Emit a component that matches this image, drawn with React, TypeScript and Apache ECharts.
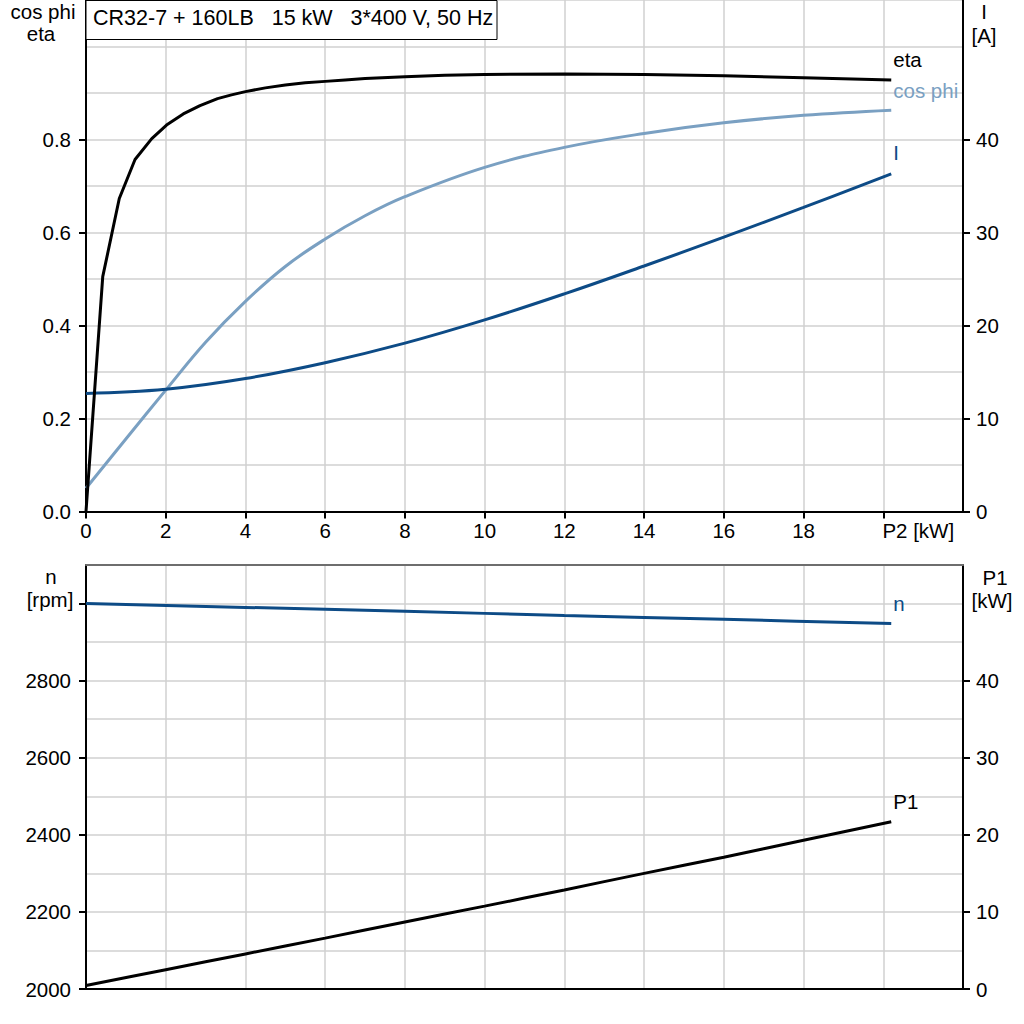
import React, { useEffect, useRef } from "react";
import * as echarts from "echarts";

// ---------- data ----------
const P2_TICKS = [0, 2, 4, 6, 8, 10, 12, 14, 16, 18, 20];
const EFF_TICKS = [0, 0.2, 0.4, 0.6, 0.8];
const CUR_TICKS = [0, 10, 20, 30, 40];
const RPM_TICKS = [2000, 2200, 2400, 2600, 2800, 3000];
const RPM_LABELS = [2000, 2200, 2400, 2600, 2800];
const P1_TICKS = [0, 10, 20, 30, 40];

const ETA_X = [0, 0.42, 0.835, 1.23, 1.65, 2.02, 2.44, 2.86, 3.3, 3.65, 4, 4.5, 5, 5.5, 6, 6.5, 7, 8, 9, 10, 12, 14, 16, 18, 20.2];
const ETA_Y = [0.0, 0.505, 0.673, 0.757, 0.802, 0.831, 0.855, 0.873, 0.888, 0.896, 0.903, 0.911, 0.917, 0.922, 0.925, 0.928, 0.931, 0.935, 0.938, 0.94, 0.941, 0.94, 0.937, 0.933, 0.928];

const COS_X = [0, 1, 2, 3, 4, 5, 6, 7, 8, 10, 12, 14, 16, 18, 20.2];
const COS_Y = [0.05, 0.156, 0.261, 0.364, 0.452, 0.527, 0.586, 0.636, 0.677, 0.74, 0.783, 0.813, 0.836, 0.852, 0.863];

const I_X = [0, 2, 4, 6, 8, 10, 12, 14, 16, 18, 20.2];
const I_Y = [12.7, 13.15, 14.3, 16.0, 18.1, 20.6, 23.4, 26.4, 29.5, 32.7, 36.3];

const N_X = [0, 4, 8, 12, 16, 20.2];
const N_Y = [3000, 2990, 2980, 2969, 2959, 2948];

const P1_X = [0, 2, 4, 6, 8, 10, 12, 14, 16, 18, 20.2];
const P1_Y = [0.45, 2.5, 4.55, 6.6, 8.7, 10.75, 12.85, 15.0, 17.1, 19.3, 21.7];

const TITLE = "CR32-7 + 160LB   15 kW   3*400 V, 50 Hz";

// ---------- style ----------
const FONT = "'Liberation Sans', Arial, sans-serif";
const GRID_COLOR = "#d0d0d0";
const BLACK = "#000000";
const LIGHT_BLUE = "#7aa0c2";
const DARK_BLUE = "#0d4b86";
const FS = 20.5;

const pairs = (xs: number[], ys: number[]) => xs.map((x, i) => [x, ys[i]]);

export default function App() {
  const ref = useRef<HTMLDivElement>(null);

  useEffect(() => {
    if (!ref.current) return;
    const chart = echarts.init(ref.current, null, { renderer: "svg" });

    const splitOnlyY = (gridIndex: number, min: number, max: number, interval: number) => ({
      type: "value",
      gridIndex,
      min,
      max,
      interval,
      position: "left",
      axisLine: { show: false, onZero: false },
      axisTick: { show: false },
      axisLabel: { show: false },
      splitLine: { show: true, lineStyle: { color: GRID_COLOR, width: 1.5 } },
    });

    const visibleY = (
      gridIndex: number,
      position: string,
      min: number,
      max: number,
      interval: number,
      ticks: number[],
      labels: number[],
      fmt: (v: number) => string,
      margin: number
    ) => ({
      type: "value",
      gridIndex,
      position,
      min,
      max,
      interval,
      axisLine: { show: true, onZero: false, lineStyle: { color: BLACK, width: 2 } },
      axisTick: { show: true, customValues: ticks, length: 7, lineStyle: { color: BLACK, width: 2 } },
      axisLabel: { show: true, customValues: labels, formatter: fmt, fontSize: FS, color: BLACK, margin, fontFamily: FONT },
      splitLine: { show: false },
    });

    const lineSeries = (
      name: string,
      xs: number[],
      ys: number[],
      color: string,
      xAxisIndex: number,
      yAxisIndex: number,
      smooth: boolean | number,
      offY: number
    ) => ({
      type: "line",
      name,
      data: pairs(xs, ys),
      xAxisIndex,
      yAxisIndex,
      smooth,
      symbol: "none",
      lineStyle: { color, width: 3 },
      itemStyle: { color },
      z: 5,
      endLabel: {
        show: true,
        formatter: name,
        color,
        fontSize: FS,
        fontFamily: FONT,
        distance: 2,
        offset: [0, offY],
      },
    });

    const axisTitle = (text: string, x: number, y: number) => ({
      type: "text",
      x,
      y,
      z: 100,
      style: {
        text,
        fill: BLACK,
        font: `${FS}px ${FONT}`,
        align: "center",
        verticalAlign: "middle",
      },
    });

    const option: any = {
      animation: false,
      textStyle: { fontFamily: FONT },
      grid: [
        { left: 86, right: 61, top: 0, height: 511.5, containLabel: false },
        { left: 86, right: 61, top: 565, height: 424, containLabel: false },
      ],
      xAxis: [
        {
          type: "value",
          gridIndex: 0,
          min: 0,
          max: 22,
          interval: 2,
          axisLine: { show: true, onZero: false, lineStyle: { color: BLACK, width: 2 } },
          axisTick: { show: true, customValues: P2_TICKS, length: 7, lineStyle: { color: BLACK, width: 2 } },
          axisLabel: {
            show: true,
            customValues: P2_TICKS,
            fontSize: FS,
            color: BLACK,
            margin: 8,
            fontFamily: FONT,
            formatter: (v: number) => (v === 20 ? "{p|P2 [kW]}" : String(v)),
            rich: { p: { fontSize: FS, color: BLACK, fontFamily: FONT, padding: [0, 0, 0, 70] } },
          },
          splitLine: { show: true, lineStyle: { color: GRID_COLOR, width: 1.5 } },
        },
        {
          type: "value",
          gridIndex: 1,
          min: 0,
          max: 22,
          interval: 2,
          position: "bottom",
          axisLine: { show: true, onZero: false, lineStyle: { color: BLACK, width: 2 } },
          axisTick: { show: false },
          axisLabel: { show: false },
          splitLine: { show: true, lineStyle: { color: GRID_COLOR, width: 1.5 } },
        },
        {
          type: "value",
          gridIndex: 1,
          min: 0,
          max: 22,
          interval: 2,
          position: "top",
          axisLine: { show: true, onZero: false, lineStyle: { color: "#6e6e6e", width: 2 } },
          axisTick: { show: false },
          axisLabel: { show: false },
          splitLine: { show: false },
        },
      ],
      yAxis: [
        splitOnlyY(0, 0, 1.1, 0.1),
        visibleY(0, "left", 0, 1.1, 0.1, EFF_TICKS, EFF_TICKS, (v) => v.toFixed(1), 15),
        visibleY(0, "right", 0, 55, 5, CUR_TICKS, CUR_TICKS, (v) => String(v), 13),
        splitOnlyY(1, 2000, 3100, 100),
        visibleY(1, "left", 2000, 3100, 100, RPM_TICKS, RPM_LABELS, (v) => String(v), 15),
        visibleY(1, "right", 0, 55, 5, P1_TICKS, P1_TICKS, (v) => String(v), 13),
      ],
      series: [
        lineSeries("cos phi", COS_X, COS_Y, LIGHT_BLUE, 0, 1, 0.4, -20),
        lineSeries("I", I_X, I_Y, DARK_BLUE, 0, 2, 0.4, -21),
        lineSeries("eta", ETA_X, ETA_Y, BLACK, 0, 1, false, -20),
        lineSeries("n", N_X, N_Y, DARK_BLUE, 1, 4, 0.3, -20),
        lineSeries("P1", P1_X, P1_Y, BLACK, 1, 5, 0.3, -20),
      ],
      graphic: [
        {
          type: "rect",
          z: 100,
          shape: { x: 86, y: 0.5, width: 411, height: 39 },
          style: { fill: "#ffffff", stroke: BLACK, lineWidth: 1 },
        },
        {
          type: "text",
          z: 101,
          x: 93,
          y: 18,
          style: {
            text: TITLE,
            fill: BLACK,
            font: `21.5px ${FONT}`,
            align: "left",
            verticalAlign: "middle",
          },
        },
        axisTitle("cos phi", 43, 11),
        axisTitle("eta", 41, 33.5),
        axisTitle("I", 984, 11),
        axisTitle("[A]", 984, 35),
        axisTitle("n", 51, 576),
        axisTitle("[rpm]", 50, 599.5),
        axisTitle("P1", 995, 577),
        axisTitle("[kW]", 992, 600),
      ],
    };

    chart.setOption(option);
    return () => chart.dispose();
  }, []);

  return (
    <div
      ref={ref}
      style={{ position: "absolute", left: 0, top: 0, width: 1024, height: 1024, background: "#ffffff" }}
    />
  );
}
